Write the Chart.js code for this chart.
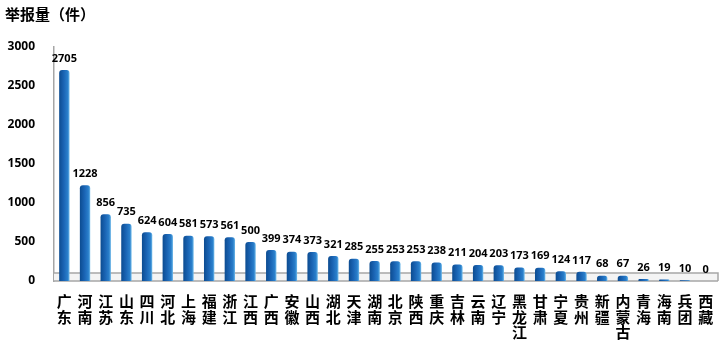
<!DOCTYPE html>
<html>
<head>
<meta charset="utf-8">
<script src="https://cdn.jsdelivr.net/npm/chart.js@4.4.1/dist/chart.umd.min.js"></script>
<style>
  html, body { margin: 0; padding: 0; background: #fff; }
  #wrap { width: 723px; height: 351px; position: relative; }
</style>
</head>
<body>
<div id="wrap"><canvas id="barChart"></canvas></div>
<script>
// 各省举报量
const provinces = ['广东', '河南', '江苏', '山东', '四川', '河北', '上海', '福建', '浙江', '江西',
    '广西', '安徽', '山西', '湖北', '天津', '湖南', '北京', '陕西', '重庆', '吉林',
    '云南', '辽宁', '黑龙江', '甘肃', '宁夏', '贵州', '新疆', '内蒙古', '青海', '海南',
    '兵团', '西藏'];
const reports = [2705, 1228, 856, 735, 624, 604, 581, 573, 561, 500,
    399, 374, 373, 321, 285, 255, 253, 253, 238, 211,
    204, 203, 173, 169, 124, 117, 68, 67, 26, 19,
    10, 0];
const yTicks = [0, 500, 1000, 1500, 2000, 2500, 3000];

// vertical labels: one character per line
const verticalLabels = provinces.map(p => p.split(''));

const cjk = "'Noto Sans CJK SC', sans-serif";
const num = "'Open Sans', 'Liberation Sans', sans-serif";

// grey floor under the bars
const floorPlugin = {
    id: 'floor',
    beforeDatasetsDraw(chart) {
        const ctx = chart.ctx;
        const y0 = chart.scales.y.getPixelForValue(0);
        const area = chart.chartArea;
        ctx.save();
        ctx.fillStyle = '#F4F4F4';
        ctx.fillRect(area.left, y0 - 8, area.right - area.left + 2, 8);
        ctx.strokeStyle = '#A6A6A6';
        ctx.lineWidth = 1.5;
        ctx.beginPath();
        ctx.moveTo(area.left, y0 - 8);
        ctx.lineTo(area.right + 2, y0 - 8);
        ctx.lineTo(area.right + 2, y0);
        ctx.moveTo(area.left, y0);
        ctx.lineTo(area.right + 2, y0);
        ctx.stroke();
        ctx.restore();
    }
};

// numbers above the bars
const valueLabels = {
    id: 'valueLabels',
    afterDatasetsDraw(chart) {
        const ctx = chart.ctx;
        const meta = chart.getDatasetMeta(0);
        ctx.save();
        ctx.font = 'bold 11px ' + num;
        ctx.fillStyle = '#000';
        ctx.textAlign = 'center';
        ctx.textBaseline = 'bottom';
        meta.data.forEach((bar, i) => {
            ctx.fillText(reports[i], bar.x, bar.y - 6);
        });
        ctx.restore();
    }
};

function cylinder(context) {
    const chart = context.chart;
    const xs = chart.scales.x;
    if (!xs || xs.left === undefined || context.dataIndex === undefined) return '#1A63B0';
    const cx = xs.getPixelForValue(context.dataIndex);
    const g = chart.ctx.createLinearGradient(cx - 5.5, 0, cx + 5.5, 0);
    g.addColorStop(0, '#0B4A8E');
    g.addColorStop(0.45, '#1A64B4');
    g.addColorStop(0.8, '#2A7FCB');
    g.addColorStop(1, '#79C2EE');
    return g;
}

const ctx = document.getElementById('barChart').getContext('2d');
const barChart = new Chart(ctx, {
    type: 'bar',
    data: {
        labels: verticalLabels,
        datasets: [{
            label: '举报量',
            data: reports,
            backgroundColor: cylinder,
            borderRadius: { topLeft: 3, topRight: 3 },
            borderSkipped: 'bottom',
            barPercentage: 0.5,
            categoryPercentage: 1
        }]
    },
    options: {
        responsive: true,
        maintainAspectRatio: false,
        animation: false,
        layout: { padding: { left: 5, right: 7, top: 5, bottom: 0 } },
        plugins: {
            legend: { display: false },
            tooltip: { enabled: false },
            title: {
                display: true,
                text: '举报量（件）',
                align: 'start',
                color: '#000',
                font: { family: cjk, size: 15, weight: 'bold' },
                padding: { top: 0, bottom: 24 }
            }
        },
        scales: {
            x: {
                grid: { display: false },
                border: { display: false },
                ticks: {
                    autoSkip: false,
                    maxRotation: 0,
                    minRotation: 0,
                    padding: 5,
                    color: '#000',
                    font: { family: cjk, size: 15, weight: 'bold', lineHeight: 1.02 }
                },
                afterFit(scale) { scale.height = 70; }
            },
            y: {
                min: 0,
                max: 3000,
                grid: { display: false },
                border: { display: true, color: '#A6A6A6', width: 1.5 },
                afterBuildTicks(scale) { scale.ticks = yTicks.map(v => ({ value: v })); },
                ticks: {
                    padding: 11,
                    color: '#000',
                    font: { family: num, size: 12, weight: 'bold' },
                    callback: value => String(value)
                },
                afterFit(scale) { scale.width = 49; }
            }
        }
    },
    plugins: [floorPlugin, valueLabels]
});
</script>
</body>
</html>
